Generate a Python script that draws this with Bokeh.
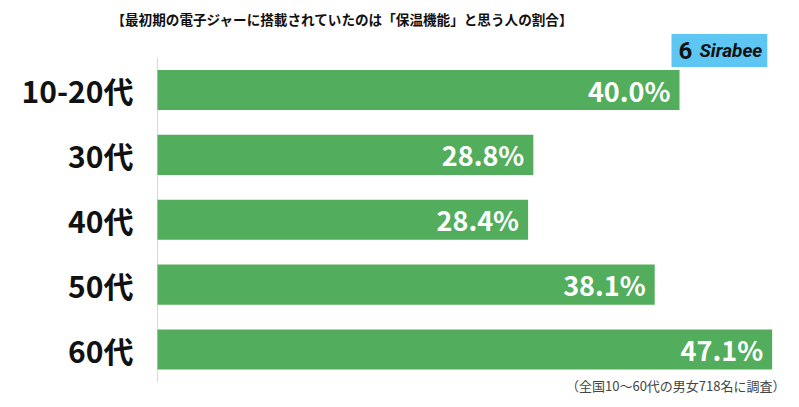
from bokeh.plotting import figure
from bokeh.models import Range1d, Label, ColumnDataSource
from bokeh.core.properties import value
from bokeh.embed import file_html
from bokeh.resources import INLINE

categories = ["10-20代", "30代", "40代", "50代", "60代"]
values = [40.0, 28.8, 28.4, 38.1, 47.1]
value_labels = ["40.0%", "28.8%", "28.4%", "38.1%", "47.1%"]
title_text = "【最初期の電子ジャーに搭載されていたのは「保温機能」と思う人の割合】"
note_text = "（全国10～60代の男女718名に調査）"

W, H = 799, 407
FONT = "Noto Sans CJK JP"
PX_PER_PCT = 13.05
ROW = 64.875
LEFT = 157          # page x of value 0
LAST_ROW_Y = 349    # page y of last row center

n = len(categories)
pos = [n - 1 - i for i in range(n)]   # top row = highest

src = ColumnDataSource(dict(cat=categories, val=values, lab=value_labels, pos=pos,
                            zero=[0] * n))

p = figure(width=W, height=H, output_backend="svg", toolbar_location=None,
           x_range=Range1d(-LEFT / PX_PER_PCT, (W - LEFT) / PX_PER_PCT),
           y_range=Range1d((LAST_ROW_Y - H) / ROW, LAST_ROW_Y / ROW),
           min_border=0)
p.outline_line_color = None
p.xgrid.visible = False
p.ygrid.visible = False
p.xaxis.visible = False
p.yaxis.visible = False
p.background_fill_color = "white"
p.border_fill_color = "white"

# axis line
p.segment(x0=[0], y0=[-0.5], x1=[0], y1=[n - 0.5], line_color="#d9d9d9", line_width=1)

p.hbar(y="pos", right="val", left=0, height=0.617, source=src,
       fill_color="#52ad5c", line_color=None)

p.text(x="val", y="pos", text="lab", source=src, x_offset=-9,
       text_align="right", text_baseline="middle",
       text_font=value(FONT), text_font_style="bold",
       text_font_size="27px", text_color="white")

p.text(x="zero", y="pos", text="cat", source=src, x_offset=-24,
       text_align="right", text_baseline="middle",
       text_font=value(FONT), text_font_style="bold",
       text_font_size="30px", text_color="#111111")

def page_label(text, px, py, **kw):
    return Label(x=px, y=H - py, x_units="screen", y_units="screen", text=text, **kw)

p.add_layout(page_label(title_text, 342, 18, text_align="center", text_baseline="middle",
                        text_font=FONT, text_font_style="bold", text_font_size="13.6px",
                        text_color="#111111"))
p.add_layout(page_label(note_text, 785, 385, text_align="right", text_baseline="middle",
                        text_font=FONT, text_font_size="13px", text_color="#444444"))
# logo
p.add_layout(page_label("Sirabee", 671, 50, text_align="left", text_baseline="middle",
                        text_font="Roboto", text_font_style="bold italic", text_font_size="19px",
                        text_color="#111111", background_fill_color="#5ec6f2",
                        padding=dict(left=28, right=5, top=5, bottom=5)))
p.add_layout(page_label("6", 685, 50, text_align="center", text_baseline="middle",
                        text_font="Roboto", text_font_style="bold", text_font_size="24px",
                        text_color="#111111"))

open("out.html", "w").write(file_html(p, INLINE))
